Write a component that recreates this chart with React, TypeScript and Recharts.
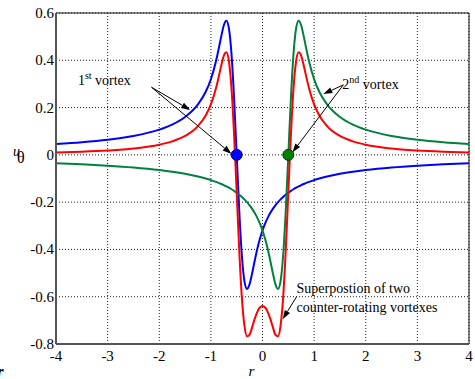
import { CartesianGrid, Line, LineChart, ReferenceArea, ReferenceDot, ReferenceLine, XAxis, YAxis } from 'recharts';

// radial position r
const rPoints = [
  -4, -3.5, -3, -2.5, -2, -1.75, -1.5, -1.25, -1.1, -1, -0.9, -0.85,
  -0.8, -0.75, -0.7, -0.65, -0.6, -0.55, -0.5, -0.45, -0.4, -0.35, -0.3, -0.25,
  -0.2, -0.15, -0.1, -0.05, 0, 0.05, 0.1, 0.15, 0.2, 0.25, 0.3, 0.35,
  0.4, 0.45, 0.5, 0.55, 0.6, 0.65, 0.7, 0.75, 0.8, 0.85, 0.9, 1,
  1.1, 1.25, 1.5, 1.75, 2, 2.5, 3, 3.5, 4,
];

// 1st vortex (blue), centred at r = -0.5
const firstVortex = [
  0.0457, 0.0533, 0.064, 0.08, 0.1067, 0.128, 0.16, 0.2133, 0.2667, 0.3199, 0.3971, 0.4467,
  0.5001, 0.547, 0.5672, 0.534, 0.4248, 0.2376, 0, -0.2376, -0.4248, -0.534, -0.5672, -0.547,
  -0.5001, -0.4467, -0.3971, -0.3549, -0.3199, -0.2909, -0.2667, -0.2462, -0.2286, -0.2133, -0.2, -0.1882,
  -0.1778, -0.1684, -0.16, -0.1524, -0.1455, -0.1391, -0.1333, -0.128, -0.1231, -0.1185, -0.1143, -0.1067,
  -0.1, -0.0914, -0.08, -0.0711, -0.064, -0.0533, -0.0457, -0.04, -0.0356,
];

// 2nd vortex (green), centred at r = 0.5
const secondVortex = [
  -0.0356, -0.04, -0.0457, -0.0533, -0.064, -0.0711, -0.08, -0.0914, -0.1, -0.1067, -0.1143, -0.1185,
  -0.1231, -0.128, -0.1333, -0.1391, -0.1455, -0.1524, -0.16, -0.1684, -0.1778, -0.1882, -0.2, -0.2133,
  -0.2286, -0.2462, -0.2667, -0.2909, -0.3199, -0.3549, -0.3971, -0.4467, -0.5001, -0.547, -0.5672, -0.534,
  -0.4248, -0.2376, 0, 0.2376, 0.4248, 0.534, 0.5672, 0.547, 0.5001, 0.4467, 0.3971, 0.3199,
  0.2667, 0.2133, 0.16, 0.128, 0.1067, 0.08, 0.064, 0.0533, 0.0457,
];

// superposition (red)
const superposition = [
  0.0101, 0.0133, 0.0183, 0.0267, 0.0427, 0.0569, 0.08, 0.1219, 0.1667, 0.2132, 0.2828, 0.3282,
  0.377, 0.419, 0.4339, 0.3949, 0.2793, 0.0852, -0.16, -0.406, -0.6026, -0.7222, -0.7672, -0.7603,
  -0.7287, -0.6929, -0.6638, -0.6458, -0.6398, -0.6458, -0.6638, -0.6929, -0.7287, -0.7603, -0.7672, -0.7222,
  -0.6026, -0.406, -0.16, 0.0852, 0.2793, 0.3949, 0.4339, 0.419, 0.377, 0.3282, 0.2828, 0.2132,
  0.1667, 0.1219, 0.08, 0.0569, 0.0427, 0.0267, 0.0183, 0.0133, 0.0101,
];

const rTicks = [-4, -3, -2, -1, 0, 1, 2, 3, 4];
const uTicks = [-0.8, -0.6, -0.4, -0.2, 0, 0.2, 0.4, 0.6];

const rows = rPoints.map((r, i) => ({
  r,
  first: firstVortex[i],
  second: secondVortex[i],
  sum: superposition[i],
}));

const FONT = '"Liberation Serif", "Times New Roman", serif';

function Arrow(props: any) {
  const { x1, y1, x2, y2 } = props;
  const a = Math.atan2(y2 - y1, x2 - x1);
  const len = 9;
  const half = 3;
  const bx = x2 - len * Math.cos(a);
  const by = y2 - len * Math.sin(a);
  const p1 = `${bx + half * Math.sin(a)},${by - half * Math.cos(a)}`;
  const p2 = `${bx - half * Math.sin(a)},${by + half * Math.cos(a)}`;
  return (
    <g>
      <line x1={x1} y1={y1} x2={bx} y2={by} stroke="#000" strokeWidth={1} />
      <polygon points={`${x2},${y2} ${p1} ${p2}`} fill="#000" />
    </g>
  );
}

function XTick(props: any) {
  const { x, y, payload } = props;
  return (
    <text x={x} y={y + 14} textAnchor="middle" fontFamily={FONT} fontSize={15} fill="#000">
      {payload.value}
    </text>
  );
}

function YTick(props: any) {
  const { x, y, payload } = props;
  const v = payload.value;
  return (
    <text x={x + 1} y={y + 5} textAnchor="end" fontFamily={FONT} fontSize={15} fill="#000">
      {v === 0 ? '0' : v.toFixed(1)}
    </text>
  );
}

const textAt = (content: (x: number, y: number) => any) => (p: any) => content(p.cx, p.cy);

export default function App() {
  return (
    <div style={{ position: 'absolute', left: 0, top: 0, width: 475, height: 379, background: '#fff', fontFamily: FONT }}>
      <LineChart width={475} height={379} data={rows} margin={{ top: 13, right: 6, bottom: 5, left: 0 }}>
        <CartesianGrid stroke="#222" strokeDasharray="1 2" strokeWidth={1} />
        <XAxis
          dataKey="r"
          type="number"
          domain={[-4, 4]}
          ticks={rTicks}
          interval={0}
          height={30}
          allowDataOverflow
          axisLine={{ stroke: '#555', strokeWidth: 2 }}
          tickLine={false}
          tickSize={1}
          tickMargin={2}
          tick={<XTick />}
          label={{
            content: (p: any) => {
              const vb = p.viewBox;
              return (
                <g fontFamily={FONT}>
                  <text x={vb.x + vb.width / 2 - 14} y={vb.y + 32} fontSize={15} fontStyle="italic" fill="#000">r</text>
                  <text x={-3} y={377} fontSize={17} fontStyle="italic" fontWeight="bold" fill="#000">r</text>
                </g>
              );
            },
          }}
        />
        <YAxis
          type="number"
          domain={[-0.8, 0.6]}
          ticks={uTicks}
          interval={0}
          width={56}
          allowDataOverflow
          axisLine={{ stroke: '#555', strokeWidth: 2 }}
          tickLine={false}
          tickSize={1}
          tickMargin={2}
          tick={<YTick />}
          label={{
            content: (p: any) => {
              const vb = p.viewBox;
              return (
                <g fontFamily={FONT} fill="#000">
                  <text x={vb.x + 13} y={vb.y + 143} fontSize={14} fontStyle="italic">u</text>
                  <text x={vb.x + 17} y={vb.y + 150} fontSize={16}>θ</text>
                </g>
              );
            },
          }}
        />
        <ReferenceArea x1={-4} x2={4} y1={-0.8} y2={0.6} fill="none" stroke="#111" strokeWidth={1} />
        <Line dataKey="first" type="monotone" stroke="#0000ff" strokeWidth={2} dot={false} isAnimationActive={false} />
        <Line dataKey="second" type="monotone" stroke="#00803f" strokeWidth={2} dot={false} isAnimationActive={false} />
        <Line dataKey="sum" type="monotone" stroke="#ff0000" strokeWidth={2} dot={false} isAnimationActive={false} />

        <ReferenceLine segment={[{ x: -2.15, y: 0.286 }, { x: -1.4, y: 0.19 }]} shape={Arrow} />
        <ReferenceLine segment={[{ x: -2.15, y: 0.286 }, { x: -0.6, y: 0.004 }]} shape={Arrow} />
        <ReferenceLine segment={[{ x: 1.566, y: 0.296 }, { x: 1.178, y: 0.257 }]} shape={Arrow} />
        <ReferenceLine segment={[{ x: 1.566, y: 0.296 }, { x: 0.578, y: 0.01 }]} shape={Arrow} />
        <ReferenceLine segment={[{ x: 0.663, y: -0.599 }, { x: 0.391, y: -0.695 }]} shape={Arrow} />

        <ReferenceDot x={-0.5} y={0} r={5.5} fill="#0000ff" stroke="#00006a" strokeWidth={1} />
        <ReferenceDot x={0.5} y={0} r={5.5} fill="#008000" stroke="#003a00" strokeWidth={1} />

        <ReferenceDot
          x={-3.576}
          y={0.296}
          shape={textAt((x, y) => (
            <text x={x} y={y} fontFamily={FONT} fontSize={14} fill="#000">
              1<tspan dy={-6} fontSize={10}>st</tspan>
              <tspan dy={6} fontSize={14}> vortex</tspan>
            </text>
          ))}
        />
        <ReferenceDot
          x={1.547}
          y={0.279}
          shape={textAt((x, y) => (
            <text x={x} y={y} fontFamily={FONT} fontSize={14} fill="#000">
              2<tspan dy={-6} fontSize={10}>nd</tspan>
              <tspan dy={6} fontSize={14}> vortex</tspan>
            </text>
          ))}
        />
        <ReferenceDot
          x={0.659}
          y={-0.585}
          shape={textAt((x, y) => (
            <text x={x} y={y} fontFamily={FONT} fontSize={14} fill="#000">Superpostion of two</text>
          ))}
        />
        <ReferenceDot
          x={0.659}
          y={-0.663}
          shape={textAt((x, y) => (
            <text x={x} y={y} fontFamily={FONT} fontSize={14} fill="#000">counter-rotating vortexes</text>
          ))}
        />
      </LineChart>
    </div>
  );
}
